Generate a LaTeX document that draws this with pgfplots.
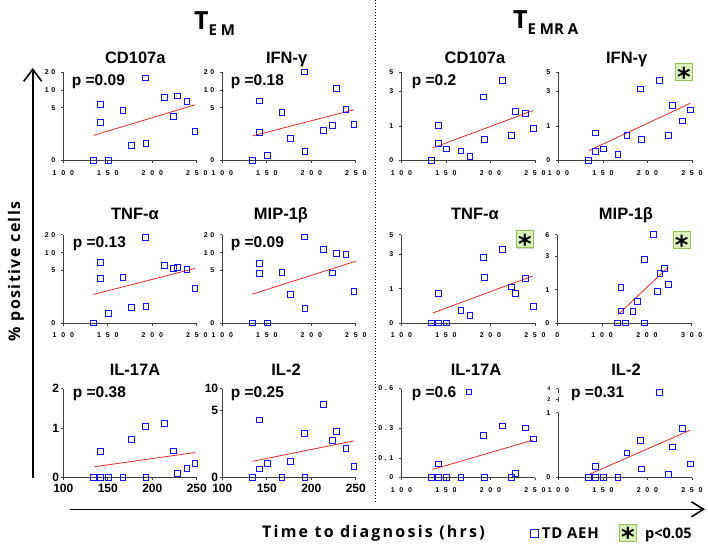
\documentclass[border=0pt]{standalone}
\usepackage{fontspec}
\setmainfont{Liberation Sans}
\newfontfamily\hum{Open Sans}
\newfontfamily\djv{DejaVu Sans}
\usepackage{pgfplots}
\usepackage{pgfplotstable}
\pgfplotsset{compat=1.18}
\usetikzlibrary{arrows.meta,shadows}
\definecolor{mblue}{RGB}{20,20,240}
\definecolor{lred}{RGB}{230,40,40}
\definecolor{sfill}{RGB}{218,242,185}
\definecolor{sdraw}{RGB}{150,190,90}
\newcommand\G{\hspace{4.8pt}}
\newcommand\g{\hspace{2.6pt}}
\newcommand\tks{\fontsize{7}{7}\selectfont\bfseries}
\newcommand\tkb{\fontsize{12}{12}\selectfont\bfseries}
\newcommand\ttl{\fontsize{16.5}{16.5}\selectfont\bfseries}
\newcommand\pv{\fontsize{15.5}{15.5}\selectfont\bfseries}
\newcommand\starbox[1]{%
  \node[draw=sdraw, fill=sfill, line width=0.8pt, minimum size=17pt, inner sep=0pt,
        drop shadow={shadow xshift=0.7pt, shadow yshift=-0.7pt, opacity=0.35}] at (#1) {};
  \node[inner sep=0pt, yshift=-4.5pt] at (#1) {\djv\bfseries\fontsize{26}{26}\selectfont *};}

\pgfplotsset{
 panel/.style={scale only axis, width=133.5pt, height=88.3pt, anchor=south west,
   xmin=100, xmax=250, ymin=0, ymax=1, axis x line*=bottom, axis y line*=left,
   clip=false, tick align=outside, major tick length=2.5pt,
   axis line style={line width=0.8pt, black!75},
   every tick/.append style={line width=0.8pt, black!75}},
 small/.style={xtick={100,150,200,250}, xticklabels={1\G0\G0,1\G5\G0,2\G0\G0,2\G5\G0},
   ticklabel style={font=\tks}, xticklabel style={yshift=-4pt}, yticklabel style={xshift=-2pt}},
 big/.style={xtick={100,150,200,250}, xticklabels={100,150,200,250},
   ticklabel style={font=\tkb, inner sep=1.5pt}, xticklabel style={yshift=-2pt}},
 pw/.style n args={5}{declare function={pw(\v)=#4*min(\v,#1)/#1+(#5-#4)*max(0,min(\v,#2)-#1)/(#2-#1)+(1-#5)*max(0,\v-#2)/(#3-#2);},
   ytick={0,#4,#5,1}},
 pts/.style={only marks, color=mblue, mark=square, mark size=2.9pt,
   mark options={solid, draw=mblue, fill=none, line width=1pt}},
 fit/.style={lred, line width=0.8pt, no marks},
}

% TEM CD107a
\pgfplotstableread{
x y
134 0
142 5.9
142 3.6
151 0
167 4.74
177 1.38
192 16.7
193 1.57
214 7.9
224 4.17
228 8.3
239 6.85
248 2.72
}\dA
% TEM IFN-g
\pgfplotstableread{
x y
134 0
142 6.9
142 2.61
151 0.48
167 4.52
177 2.07
192 20
193 0.83
214 2.80
224 3.34
228 10.8
239 4.87
248 3.38
}\dB
% TEMRA CD107a
\pgfplotstableread{
x y
134 0
142 1.02
142 0.49
151 0.33
167 0.27
177 0.12
192 2.68
193 0.60
214 4.15
224 0.72
228 1.82
239 1.72
248 0.92
}\dC
% TEMRA IFN-g
\pgfplotstableread{
x y
134 0
142 0.80
142 0.26
151 0.33
167 0.18
177 0.72
192 3.24
193 0.60
214 4.15
224 0.72
228 2.2
239 1.30
248 1.93
}\dD
% TEM TNF-a
\pgfplotstableread{
x y
134 0
142 7.17
142 4.26
151 0.9
167 4.33
177 1.44
192 18.5
193 1.54
214 6.4
224 5.47
228 5.75
239 5.19
248 3.3
}\dE
% TEM MIP-1b
\pgfplotstableread{
x y
134 0
142 6.98
142 4.68
151 0
167 4.78
177 2.75
192 18.7
193 1.39
214 11.7
224 4.75
228 9.7
239 9.4
248 2.97
}\dF
% TEMRA TNF-a
\pgfplotstableread{
x y
134 0
142 0
142 0.86
151 0
167 0.36
177 0.21
192 2.79
193 1.67
214 3.48
224 1.10
228 0.87
239 1.58
248 0.49
}\dG
% TEMRA MIP-1b
\pgfplotstableread{
x y
135 0
142 1.16
142 0.36
153 0
169 0.34
179 0.64
194 2.82
195 0
215 6
223 0.94
229 1.99
240 2.27
248 1.32
}\dH
% TEM IL-17A
\pgfplotstableread{
x y
134 0
142 0
142 0.53
151 0
167 0
177 0.78
192 1.05
193 0
214 1.13
224 0.54
228 0.08
239 0.18
248 0.28
}\dI
% TEM IL-2
\pgfplotstableread{
x y
134 0
142 4.30
142 0.63
151 1.03
167 0
177 1.21
192 3.29
193 0
214 6.44
224 2.76
228 3.44
239 2.14
248 0.80
}\dJ
% TEMRA IL-17A
\pgfplotstableread{
x y
134 0
142 0
142 0.07
151 0
167 0
176 0.574
192 0.249
193 0
214 0.315
224 0
228 0.021
239 0.30
248 0.227
}\dK
% TEMRA IL-2
\pgfplotstableread{
x y
134 0
142 0
142 0.17
151 0
167 0
177 0.38
192 0.57
193 0.13
214 3.3
224 0.05
228 0.47
239 0.76
248 0.21
}\dL

\begin{document}
\begin{tikzpicture}
\useasboundingbox (0pt,0pt) rectangle (708pt,552pt);

% ---------- Row 1 ----------
\begin{axis}[panel, small, at={(63.3pt,391.7pt)}, pw={5}{10}{20}{0.595}{0.797},
  yticklabels={0,5,1\g0,2\g0}]
\addplot[pts] table[x=x, y expr={pw(\thisrow{y})}] {\dA};
\addplot[fit] table[row sep=\\, y expr={pw(\thisrow{y})}] {x y\\ 134 2.37\\ 248 5.83\\};
\end{axis}
\begin{axis}[panel, small, at={(222.3pt,391.7pt)}, pw={5}{10}{20}{0.595}{0.797},
  yticklabels={0,5,1\g0,2\g0}]
\addplot[pts] table[x=x, y expr={pw(\thisrow{y})}] {\dB};
\addplot[fit] table[row sep=\\, y expr={pw(\thisrow{y})}] {x y\\ 134 2.32\\ 248 4.81\\};
\end{axis}
\begin{axis}[panel, small, at={(401.4pt,391.7pt)}, pw={1}{3}{5}{0.387}{0.78},
  yticklabels={0,1,3,5}]
\addplot[pts] table[x=x, y expr={pw(\thisrow{y})}] {\dC};
\addplot[fit] table[row sep=\\, y expr={pw(\thisrow{y})}] {x y\\ 135 0.36\\ 248 1.90\\};
\end{axis}
\begin{axis}[panel, small, at={(558.4pt,391.7pt)}, pw={1}{3}{5}{0.387}{0.78},
  yticklabels={0,1,3,5}]
\addplot[pts] table[x=x, y expr={pw(\thisrow{y})}] {\dD};
\addplot[fit] table[row sep=\\, y expr={pw(\thisrow{y})}] {x y\\ 134 0.28\\ 248 2.31\\};
\end{axis}

% ---------- Row 2 ----------
\begin{axis}[panel, small, at={(63.3pt,229pt)}, pw={5}{10}{20}{0.595}{0.797},
  yticklabels={0,5,1\g0,2\g0}]
\addplot[pts] table[x=x, y expr={pw(\thisrow{y})}] {\dE};
\addplot[fit] table[row sep=\\, y expr={pw(\thisrow{y})}] {x y\\ 134 2.72\\ 248 5.57\\};
\end{axis}
\begin{axis}[panel, small, at={(222.3pt,229pt)}, pw={5}{10}{20}{0.595}{0.797},
  yticklabels={0,5,1\g0,2\g0}]
\addplot[pts] table[x=x, y expr={pw(\thisrow{y})}] {\dF};
\addplot[fit] table[row sep=\\, y expr={pw(\thisrow{y})}] {x y\\ 134 2.75\\ 250 7.6\\};
\end{axis}
\begin{axis}[panel, small, at={(401.4pt,229pt)}, pw={1}{3}{5}{0.387}{0.78},
  yticklabels={0,1,3,5}]
\addplot[pts] table[x=x, y expr={pw(\thisrow{y})}] {\dG};
\addplot[fit] table[row sep=\\, y expr={pw(\thisrow{y})}] {x y\\ 135 0.29\\ 248 1.75\\};
\end{axis}
\begin{axis}[panel, small, at={(557.3pt,229pt)}, width=134.4pt, xmin=0, xmax=300,
  xtick={0,100,200,300}, xticklabels={0,1\G0\G0,2\G0\G0,3\G0\G0},
  pw={1}{3}{6}{0.375}{0.753}, yticklabels={0,1,3,6}]
\addplot[pts] table[x=x, y expr={pw(\thisrow{y})}] {\dH};
\addplot[fit] table[row sep=\\, y expr={pw(\thisrow{y})}] {x y\\ 136 0.26\\ 248 2.37\\};
\end{axis}

% ---------- Row 3 ----------
\begin{axis}[panel, big, at={(63.3pt,74.5pt)}, height=89pt, pw={1}{1.5}{2}{0.55}{0.775},
  ytick={0,0.55,1}, yticklabels={0,1,2}]
\addplot[pts] table[x=x, y expr={pw(\thisrow{y})}] {\dI};
\addplot[fit] table[row sep=\\, y expr={pw(\thisrow{y})}] {x y\\ 135 0.22\\ 248 0.51\\};
\end{axis}
\begin{axis}[panel, big, at={(222.3pt,74.5pt)}, height=89pt, pw={5}{7.5}{10}{0.751}{0.8755},
  ytick={0,0.751,1}, yticklabels={0,5,10}]
\addplot[pts] table[x=x, y expr={pw(\thisrow{y})}] {\dJ};
\addplot[fit] table[row sep=\\, y expr={pw(\thisrow{y})}] {x y\\ 134 1.21\\ 248 2.74\\};
\end{axis}
\begin{axis}[panel, small, at={(401.4pt,74.5pt)}, height=89pt, pw={0.1}{0.3}{0.6}{0.216}{0.557},
  yticklabels={0,0\g.\g1,0\g.\g3,0\g.\g6}]
\addplot[pts] table[x=x, y expr={pw(\thisrow{y})}] {\dK};
\addplot[fit] table[row sep=\\, y expr={pw(\thisrow{y})}] {x y\\ 135 0.042\\ 248 0.22\\};
\end{axis}
\begin{axis}[panel, small, at={(558.4pt,74.5pt)}, height=89pt, pw={1}{2}{4}{0.727}{0.876},
  yticklabels={0,1,{\fontsize{5.5}{5.5}\selectfont 2},{\fontsize{5.5}{5.5}\selectfont 4}},
  y axis line style={draw=none}]
\addplot[pts] table[x=x, y expr={pw(\thisrow{y})}] {\dL};
\addplot[fit] table[row sep=\\, y expr={pw(\thisrow{y})}] {x y\\ 133 0.04\\ 248 0.73\\};
\draw[line width=0.8pt, black!75] (axis cs:100,0) -- (axis cs:100,0.727);
\draw[line width=0.7pt, black!75] (axis cs:100,0.85) -- (axis cs:100,0.905);
\draw[line width=0.7pt, black!75] (axis cs:100,0.95) -- (axis cs:100,1);
\end{axis}

% ---------- Titles ----------
\node[anchor=base west, inner sep=0pt] at (194pt,522.7pt)
  {\hum\bfseries\fontsize{25}{25}\selectfont T\raisebox{-6.7pt}{\fontsize{15}{15}\selectfont E M}};
\node[anchor=base west, inner sep=0pt] at (513pt,523.7pt)
  {\hum\bfseries\fontsize{25}{25}\selectfont T\raisebox{-6.7pt}{\fontsize{15}{15}\selectfont E MR A}};

\node[anchor=base, inner sep=0pt] at (135.3pt,488.7pt) {\ttl CD107a};
\node[anchor=base, inner sep=0pt] at (286.7pt,488.7pt) {\ttl IFN-γ};
\node[anchor=base, inner sep=0pt] at (475pt,488.7pt) {\ttl CD107a};
\node[anchor=base, inner sep=0pt] at (626.7pt,488.7pt) {\ttl IFN-γ};
\node[anchor=base, inner sep=0pt] at (135pt,332pt) {\ttl TNF-α};
\node[anchor=base, inner sep=0pt] at (281pt,332pt) {\ttl MIP-1β};
\node[anchor=base, inner sep=0pt] at (475pt,332pt) {\ttl TNF-α};
\node[anchor=base, inner sep=0pt] at (626pt,332pt) {\ttl MIP-1β};
\node[anchor=base, inner sep=0pt] at (135pt,177pt) {\ttl IL-17A};
\node[anchor=base, inner sep=0pt] at (286pt,177pt) {\ttl IL-2};
\node[anchor=base, inner sep=0pt] at (476pt,177pt) {\ttl IL-17A};
\node[anchor=base, inner sep=0pt] at (626pt,177pt) {\ttl IL-2};

% p values
\node[anchor=base west, inner sep=0pt] at (71.7pt,466pt) {\pv p =0.09};
\node[anchor=base west, inner sep=0pt] at (230.7pt,466pt) {\pv p =0.18};
\node[anchor=base west, inner sep=0pt] at (411.7pt,466pt) {\pv p =0.2};
\node[anchor=base west, inner sep=0pt] at (72.7pt,304.3pt) {\pv p =0.13};
\node[anchor=base west, inner sep=0pt] at (230.7pt,304.3pt) {\pv p =0.09};
\node[anchor=base west, inner sep=0pt] at (72.7pt,154.7pt) {\pv p =0.38};
\node[anchor=base west, inner sep=0pt] at (230.7pt,154.7pt) {\pv p =0.25};
\node[anchor=base west, inner sep=0pt] at (411.7pt,154.7pt) {\pv p =0.6};
\node[anchor=base west, inner sep=0pt] at (571pt,154.7pt) {\pv p =0.31};

% significance boxes
\starbox{684pt,480pt}
\starbox{525pt,312.7pt}
\starbox{681.7pt,312pt}

% separators and arrows
\draw[dotted, line width=1pt] (375pt,552pt) -- (375pt,50.3pt);
\draw[line width=1.6pt, -{Straight Barb[length=12pt,width=18pt]}] (32.7pt,74pt) -- (32.7pt,484pt);
\draw[line width=1.6pt, -{Straight Barb[length=12pt,width=15pt]}] (70pt,42.7pt) -- (705pt,42.7pt);

\node[rotate=90, inner sep=0pt] at (16pt,280.5pt)
  {\hum\bfseries\fontsize{16}{16}\selectfont\addfontfeature{LetterSpace=9}\% positive cells};
\node[anchor=base, inner sep=0pt] at (373.5pt,15pt)
  {\hum\bfseries\fontsize{16}{16}\selectfont\addfontfeature{LetterSpace=14}Time to diagnosis (hrs)};

% legend
\draw[mblue, line width=1.5pt] (530.5pt,14.5pt) rectangle (538.5pt,22.5pt);
\node[anchor=base west, inner sep=0pt] at (541.7pt,14pt)
  {\hum\bfseries\fontsize{15}{15}\selectfont\addfontfeature{LetterSpace=5}TD AEH};
\starbox{628pt,19.5pt}
\node[anchor=base west, inner sep=0pt] at (645pt,14pt)
  {\hum\bfseries\fontsize{14.5}{14.5}\selectfont p<0.05};
\end{tikzpicture}
\end{document}
